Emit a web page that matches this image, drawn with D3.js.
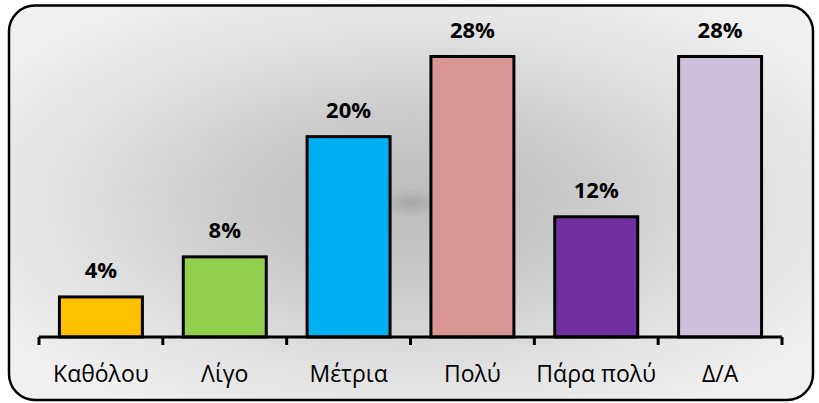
<!DOCTYPE html>
<html><head><meta charset="utf-8">
<script src="https://cdn.jsdelivr.net/npm/d3@7"></script>
<style>body{margin:0;background:#fff}svg{display:block}</style>
</head><body>
<svg id="c" width="819" height="403"></svg>
<script>
const categories = ["Καθόλου","Λίγο","Μέτρια","Πολύ","Πάρα πολύ","Δ/Α"];
const values = [4, 8, 20, 28, 12, 28];
const valueLabels = ["4%","8%","20%","28%","12%","28%"];
const colors = ["#FFC000","#92D050","#00B0F0","#D99694","#7030A0","#CCC0DA"];

const svg = d3.select("#c");
const defs = svg.append("defs");
const g = defs.append("radialGradient").attr("id","bg").attr("cx","0.5").attr("cy","0.5").attr("r","0.62");
[[0,"#a6a6a6"],[0.06,"#bfbfbf"],[0.35,"#cbcbcb"],[0.75,"#e4e4e4"],[1,"#f1f1f1"]].forEach(([o,c])=>g.append("stop").attr("offset",o).attr("stop-color",c));

svg.append("rect").attr("x",9).attr("y",5.5).attr("width",804).attr("height",394.5)
  .attr("rx",26).attr("ry",26).attr("fill","url(#bg)").attr("stroke","#000").attr("stroke-width",2.5);

const x = d3.scaleBand().domain(categories).range([39,782]).paddingInner(0.33).paddingOuter(0.165);
const y = d3.scaleLinear().domain([0,28]).range([337,56.5]);
const gap = x.step()*x.paddingInner();

svg.append("g").selectAll("rect").data(categories).join("rect")
  .attr("x",d=>x(d)).attr("width",x.bandwidth())
  .attr("y",(d,i)=>y(values[i])).attr("height",(d,i)=>y(0)-y(values[i]))
  .attr("fill",(d,i)=>colors[i]).attr("stroke","#000").attr("stroke-width",3);

// axis
const bounds = categories.map(d=>x(d)-gap/2).concat([x(categories[categories.length-1])+x.bandwidth()+gap/2]);
const ax = svg.append("g");
ax.append("line").attr("x1",bounds[0]).attr("x2",bounds[bounds.length-1]).attr("y1",y(0)).attr("y2",y(0)).attr("stroke","#000").attr("stroke-width",3);
ax.selectAll("line.t").data(bounds).join("line").attr("class","t")
  .attr("x1",d=>d).attr("x2",d=>d).attr("y1",y(0)).attr("y2",y(0)+8).attr("stroke","#000").attr("stroke-width",3);

svg.append("g").selectAll("text").data(categories).join("text")
  .attr("x",d=>x(d)+x.bandwidth()/2).attr("y",382).attr("text-anchor","middle")
  .attr("font-family","'Open Sans', sans-serif").attr("font-size",23).attr("fill","#000").text(d=>d);

svg.append("g").selectAll("text").data(categories).join("text")
  .attr("x",d=>x(d)+x.bandwidth()/2).attr("y",(d,i)=>y(values[i])-19).attr("text-anchor","middle")
  .attr("font-family","'Open Sans', sans-serif").attr("font-weight","bold").attr("font-size",22).attr("fill","#000").text((d,i)=>valueLabels[i]);
</script>
</body></html>
